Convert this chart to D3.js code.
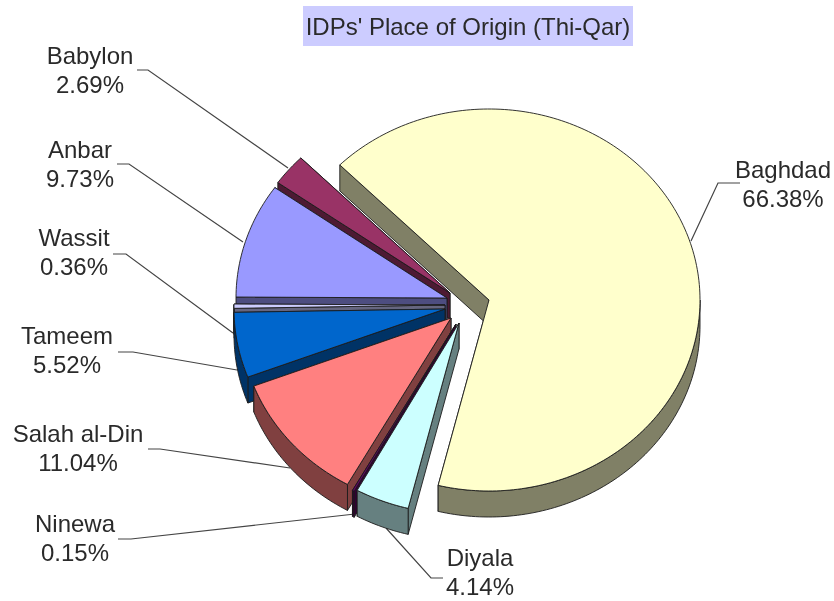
<!DOCTYPE html>
<html>
<head>
<meta charset="utf-8">
<script src="https://cdn.jsdelivr.net/npm/d3@7"></script>
<style>
  html, body { margin: 0; padding: 0; background: #fff; }
  svg { filter: blur(0.45px); }
  text { font-family: "Liberation Sans", Arial, sans-serif; fill: #2a2a2a; }
</style>
</head>
<body>
<svg id="pie" width="834" height="601"></svg>
<script>
var categories = ["Baghdad", "Diyala", "Ninewa", "Salah al-Din", "Tameem", "Wassit", "Anbar", "Babylon"];
var percents = [66.38, 4.14, 0.15, 11.04, 5.52, 0.36, 9.73, 2.69];
var percentLabels = ["66.38%", "4.14%", "0.15%", "11.04%", "5.52%", "0.36%", "9.73%", "2.69%"];
var sliceColors = ["#ffffcc", "#ccffff", "#660066", "#ff8080", "#0066cc", "#ccccff", "#9999ff", "#993366"];

// where each exploded slice has its point
var sliceCenters = [[489, 300], [459, 323], [456, 324], [451, 318], [445, 309], [445, 305], [447, 298], [450, 293]];
// back to front
var drawOrder = [0, 7, 6, 5, 4, 3, 2, 1];

var labelSpots = [[783, 178], [480, 566], [75, 532], [78, 442], [67, 344], [74, 246], [80, 158], [90, 64]];
var leaderLines = [
    [[740, 183], [718, 183], [691, 241]],
    [[443, 578], [431, 578], [386, 528]],
    [[118, 539], [131, 539], [355, 514]],
    [[148, 449], [160, 449], [290, 468]],
    [[118, 352], [133, 352], [237, 370]],
    [[113, 254], [126, 254], [233, 333]],
    [[117, 164], [129, 164], [243, 242]],
    [[137, 70], [148, 70], [288, 168]]
];

var depth = 26;
var svg = d3.select("#pie");

var xScale = d3.scaleLinear().domain([-1, 1]).range([-211, 211]);
var yScale = d3.scaleLinear().domain([-1, 1]).range([-191, 191]);

var pie = d3.pie()
    .sort(null)
    .startAngle(315 * Math.PI / 180)
    .endAngle(675 * Math.PI / 180);
var slices = pie(percents);

var line = d3.line();

function rimPoint(i, angle, drop) {
    return [
        sliceCenters[i][0] + xScale(Math.sin(angle)),
        sliceCenters[i][1] + yScale(-Math.cos(angle)) + drop
    ];
}

function arcPoints(i, a0, a1, drop) {
    var steps = Math.max(2, Math.ceil((a1 - a0) / 0.02));
    return d3.range(steps + 1).map(function(s) {
        return rimPoint(i, a0 + (a1 - a0) * s / steps, drop);
    });
}

function addShape(group, points, color) {
    group.append("path")
        .attr("d", line(points) + "Z")
        .attr("fill", color)
        .attr("stroke", "#1c1c1c")
        .attr("stroke-width", 0.9)
        .attr("stroke-linejoin", "round");
}

// leaders go under the pie
var leaders = svg.append("g");
leaderLines.forEach(function(pts) {
    leaders.append("path")
        .attr("d", line(pts))
        .attr("fill", "none")
        .attr("stroke", "#444")
        .attr("stroke-width", 1.2);
});

var pieGroup = svg.append("g");
drawOrder.forEach(function(i) {
    var s = slices[i];
    var g = pieGroup.append("g");
    var c = sliceCenters[i];
    var dark = d3.interpolateRgb(sliceColors[i], "black")(0.5);

    // flat cut faces, the visible one (start) last
    [s.endAngle, s.startAngle].forEach(function(a) {
        var p = rimPoint(i, a, 0);
        addShape(g, [c, p, [p[0], p[1] + depth], [c[0], c[1] + depth]], dark);
    });

    // outer wall, only the part that faces the viewer
    [0, 1].forEach(function(k) {
        var lo = Math.max(s.startAngle, (90 + 360 * k) * Math.PI / 180);
        var hi = Math.min(s.endAngle, (270 + 360 * k) * Math.PI / 180);
        if (hi > lo) {
            addShape(g, arcPoints(i, lo, hi, 0).concat(arcPoints(i, lo, hi, depth).reverse()), dark);
        }
    });

    // top face
    addShape(g, [c].concat(arcPoints(i, s.startAngle, s.endAngle, 0)), sliceColors[i]);
});

// title
svg.append("rect")
    .attr("x", 303).attr("y", 6)
    .attr("width", 330).attr("height", 40)
    .attr("fill", "#ccccff");
svg.append("text")
    .attr("x", 468).attr("y", 35)
    .attr("text-anchor", "middle")
    .attr("font-size", 24)
    .text("IDPs' Place of Origin (Thi-Qar)");

// labels
categories.forEach(function(name, i) {
    var t = svg.append("text")
        .attr("text-anchor", "middle")
        .attr("font-size", 24);
    t.append("tspan").attr("x", labelSpots[i][0]).attr("y", labelSpots[i][1]).text(name);
    t.append("tspan").attr("x", labelSpots[i][0]).attr("y", labelSpots[i][1] + 29).text(percentLabels[i]);
});
</script>
</body>
</html>
